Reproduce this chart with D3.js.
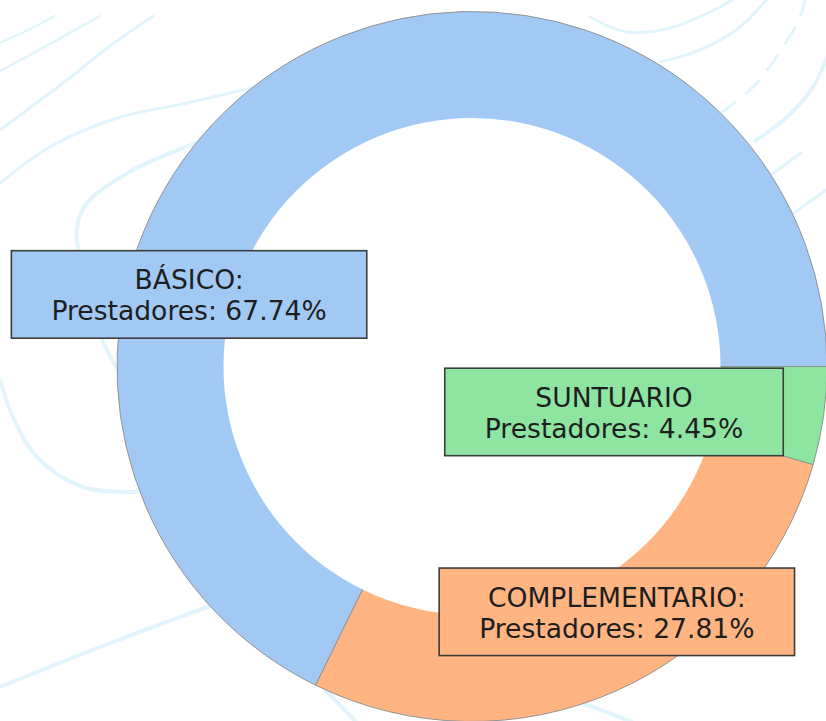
<!DOCTYPE html>
<meta charset="utf-8">
<script src="https://d3js.org/d3.v7.min.js"></script>
<style>
  body { margin: 0; background: #fff; }
</style>

<div id="my_dataviz"></div>

<script>

// slices, in the order they are drawn (counterclockwise from 3 o'clock)
var categories = ["BÁSICO", "COMPLEMENTARIO", "SUNTUARIO"]
var shares = [67.74, 27.81, 4.45]
var labelTitles = ["BÁSICO:", "COMPLEMENTARIO:", "SUNTUARIO"]
var palette = ["#a1c9f4", "#ffb482", "#8de5a1"]

// label box centres, in outer-radius units from the pie centre
var labelPos = [[-0.797, -0.203], [0.408, 0.691], [0.400, 0.128]]

// faint contour lines of the background picture (decoration only)
var bgLines = [
  {w: 2, pts: [[0,43],[30,29],[55,16]]},
  {w: 2.5, pts: [[0,71],[50,44],[100,16]]},
  {w: 3, pts: [[0,130],[67,80],[110,46],[153,16]]},
  {w: 3, pts: [[0,183],[50,147],[117,118],[187,103],[256,87]]},
  {w: 4, pts: [[197,143],[133,170],[87,203],[77,227],[80,260],[92,310],[102,340],[120,374]]},
  {w: 4, pts: [[0,380],[13,417],[37,457],[83,487],[140,492]]},
  {w: 4, pts: [[0,687],[100,647],[210,606]]},
  {w: 4, pts: [[325,690],[340,705],[356,722]]},
  {w: 4, pts: [[548,692],[590,706],[632,722]]},
  {w: 3, pts: [[590,17],[627,32],[670,28],[720,7],[735,-2]]},
  {w: 3, pts: [[660,62],[700,50],[740,27],[768,-2]]},
  {w: 3, dash: "18,14", pts: [[806,-2],[798,22],[786,42],[770,66],[752,88],[722,112]]},
  {w: 4, pts: [[828,55],[813,87],[787,117],[755,141]]},
  {w: 3, pts: [[801,153],[772,174]]},
  {w: 3, pts: [[828,189],[792,214]]}
]

var width = 826
    height = 721
    cx = 472
    cy = 366.5
    R = 355

var svg = d3.select("#my_dataviz")
  .append("svg")
    .attr("width", width)
    .attr("height", height)

// background contours
var bgLine = d3.line().curve(d3.curveCatmullRom)
svg.append("g")
  .selectAll("path")
  .data(bgLines)
  .enter()
  .append("path")
    .attr("d", function(d){ return bgLine(d.pts) })
    .attr("fill", "none")
    .attr("stroke", "#e3f5fc")
    .attr("stroke-width", function(d){ return d.w })
    .attr("stroke-linecap", "round")
    .attr("stroke-dasharray", function(d){ return d.dash || null })

var g = svg.append("g")
  .attr("transform", "translate(" + cx + "," + cy + ")")

var color = d3.scaleOrdinal()
  .domain(categories)
  .range(palette)

// radius units -> pixels
var r = d3.scaleLinear().domain([0, 1]).range([0, R])

var data = categories.map(function(c, i){ return {key: c, value: shares[i], title: labelTitles[i], pos: labelPos[i]} })

// start at 3 o'clock and go counterclockwise, like the original
var pie = d3.pie()
  .value(function(d){ return d.value })
  .sort(null)
  .startAngle(Math.PI / 2)
  .endAngle(Math.PI / 2 - 2 * Math.PI)

var arcGenerator = d3.arc()
  .innerRadius(0)
  .outerRadius(r(1))

g.selectAll("path.slice")
  .data(pie(data))
  .enter()
  .append("path")
    .attr("class", "slice")
    .attr("d", arcGenerator)
    .attr("fill", function(d){ return color(d.data.key) })
    .attr("stroke", "#939393")
    .attr("stroke-width", 1)

// white hole of the donut
g.append("circle")
  .attr("r", r(0.7))
  .attr("fill", "white")

// label boxes
var labels = g.selectAll("g.label")
  .data(data)
  .enter()
  .append("g")
    .attr("class", "label")
    .attr("transform", function(d){ return "translate(" + r(d.pos[0]) + "," + r(d.pos[1]) + ")" })

var boxes = labels.append("rect")
  .attr("fill", function(d){ return color(d.key) })
  .attr("stroke", "#3d3d3d")
  .attr("stroke-width", 1.6)

var texts = labels.append("text")
  .attr("text-anchor", "middle")
  .style("font-family", "'DejaVu Sans', sans-serif")
  .style("font-size", "26.6px")
  .style("fill", "#1e1e1e")

texts.append("tspan")
  .attr("x", 0)
  .attr("y", -5)
  .text(function(d){ return d.title })

texts.append("tspan")
  .attr("x", 0)
  .attr("y", 26)
  .text(function(d){ return "Prestadores: " + d.value.toFixed(2) + "%" })

// size each box to its text
texts.each(function(d){
  var w = this.getBBox().width
  d.boxW = w + 80
})
boxes
  .attr("x", function(d){ return -d.boxW / 2 })
  .attr("y", -43.75)
  .attr("width", function(d){ return d.boxW })
  .attr("height", 87.5)

</script>
